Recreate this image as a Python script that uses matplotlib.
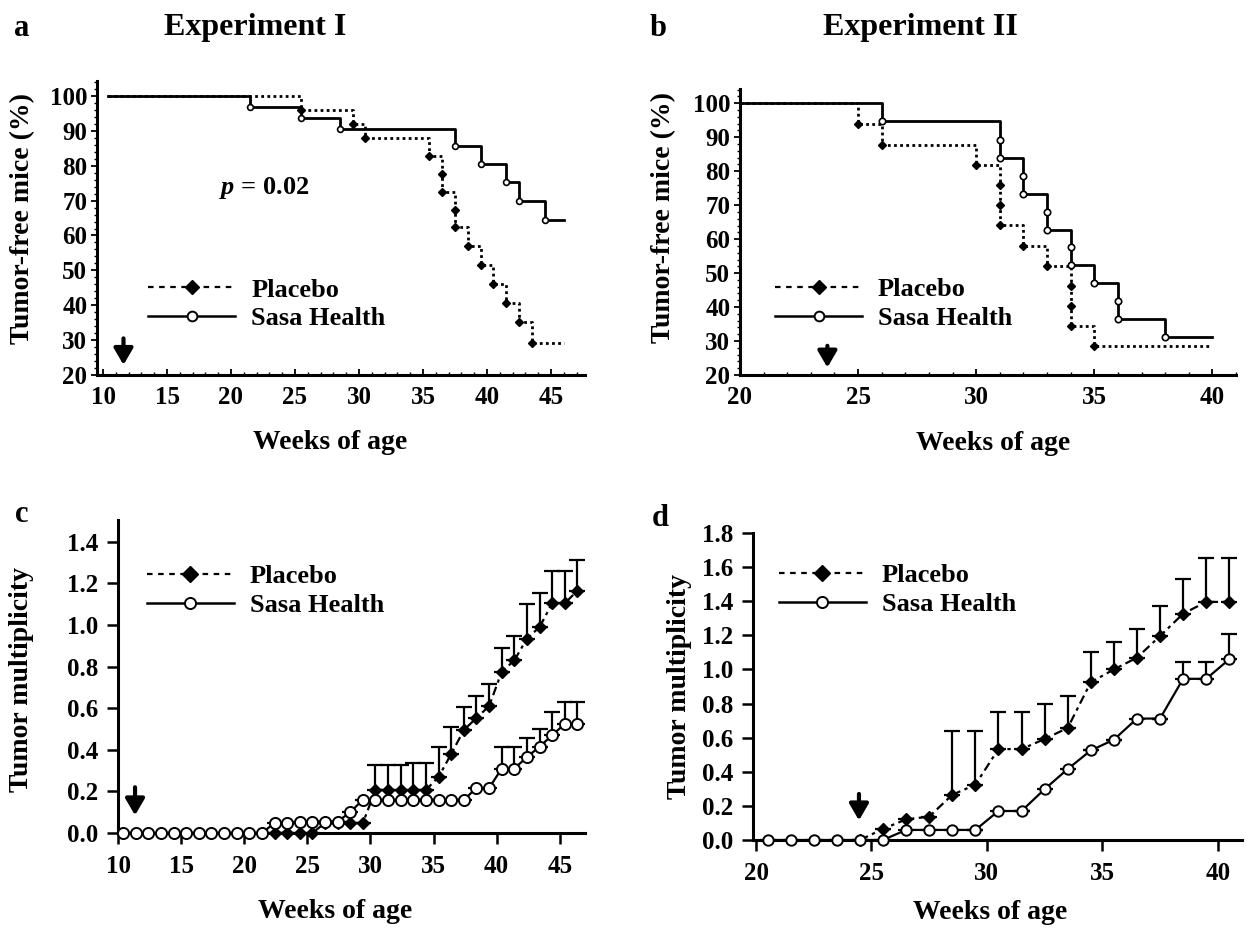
import numpy as np
import matplotlib
matplotlib.use("Agg")
import matplotlib.pyplot as plt
from matplotlib.lines import Line2D
from matplotlib.ticker import MultipleLocator

plt.rcParams["font.family"] = "serif"
plt.rcParams["font.serif"] = ["Liberation Serif", "DejaVu Serif"]
plt.rcParams["font.weight"] = "bold"
plt.rcParams["axes.labelweight"] = "bold"
plt.rcParams["mathtext.fontset"] = "custom"
plt.rcParams["mathtext.it"] = "Liberation Serif:italic:bold"
plt.rcParams["mathtext.rm"] = "Liberation Serif:bold"

# ── Experiment I : tumor-free mice (Kaplan-Meier) ──
a_pl_weeks = [10.4, 25.5, 29.5, 30.5, 35.5, 36.5, 36.5, 37.5, 37.5, 38.5, 39.5, 40.5, 41.5, 42.5, 43.5, 46.0]
a_pl_free = [100, 96.0, 92.1, 87.9, 82.9, 77.7, 72.4, 67.4, 62.4, 57.1, 51.6, 46.2, 40.6, 35.2, 29.3, 29.3]
a_ss_weeks = [10.4, 21.5, 25.5, 28.5, 37.5, 39.5, 41.5, 42.5, 44.5, 46.0]
a_ss_free = [100, 96.9, 93.8, 90.5, 85.7, 80.6, 75.3, 70.0, 64.4, 64.4]

# ── Experiment II : tumor-free mice (Kaplan-Meier) ──
b_pl_weeks = [20, 25, 26, 30, 31, 31, 31, 32, 33, 34, 34, 34, 35, 40]
b_pl_free = [100, 93.8, 87.8, 81.9, 75.9, 70.0, 64.1, 58.1, 52.2, 46.1, 40.2, 34.3, 28.4, 28.4]
b_ss_weeks = [20, 26, 31, 31, 32, 32, 33, 33, 34, 34, 35, 36, 36, 38, 40]
b_ss_free = [100, 94.7, 89.3, 83.9, 78.7, 73.4, 68.0, 62.8, 57.7, 52.4, 47.1, 41.9, 36.5, 31.1, 31.1]

# ── Experiment I : tumor multiplicity ──
c_ss_weeks = [10.4, 11.4, 12.4, 13.4, 14.4, 15.4, 16.4, 17.4, 18.4, 19.4, 20.4, 21.4, 22.4,
              23.4, 24.4, 25.4, 26.4, 27.4, 28.4, 29.4, 30.4, 31.4, 32.4, 33.4, 34.4, 35.4,
              36.4, 37.4, 38.4, 39.4, 40.4, 41.4, 42.4, 43.4, 44.4, 45.4, 46.4]
c_ss_mult = [0, 0, 0, 0, 0, 0, 0, 0, 0, 0, 0, 0, 0.048, 0.048, 0.055, 0.055, 0.055, 0.055,
             0.10, 0.16, 0.16, 0.16, 0.16, 0.16, 0.16, 0.16, 0.16, 0.16, 0.216, 0.216,
             0.31, 0.31, 0.365, 0.415, 0.47, 0.525, 0.525]
c_ss_sem = [np.nan] * 30 + [0.105, 0.105, 0.091, 0.085, 0.11, 0.105, 0.105]
c_pl_weeks = [22.4, 23.4, 24.4, 25.4, 26.4, 27.4, 28.4, 29.4, 30.4, 31.4, 32.4, 33.4, 34.4,
              35.4, 36.4, 37.4, 38.4, 39.4, 40.4, 41.4, 42.4, 43.4, 44.4, 45.4, 46.4]
c_pl_mult = [0, 0, 0, 0, 0.048, 0.048, 0.048, 0.048, 0.207, 0.207, 0.207, 0.207, 0.207,
             0.27, 0.38, 0.495, 0.553, 0.61, 0.775, 0.83, 0.935, 0.99, 1.105, 1.105, 1.165]
c_pl_sem = [np.nan] * 8 + [0.12, 0.12, 0.12, 0.129, 0.129, 0.145, 0.13, 0.111, 0.107, 0.106,
                          0.115, 0.116, 0.165, 0.165, 0.155, 0.155, 0.148]

# ── Experiment II : tumor multiplicity ──
d_ss_weeks = [20.5, 21.5, 22.5, 23.5, 24.5, 25.5, 26.5, 27.5, 28.5, 29.5, 30.5, 31.5, 32.5,
              33.5, 34.5, 35.5, 36.5, 37.5, 38.5, 39.5, 40.5]
d_ss_mult = [0, 0, 0, 0, 0, 0, 0.059, 0.059, 0.059, 0.059, 0.17, 0.17, 0.298, 0.416, 0.525,
             0.588, 0.712, 0.712, 0.945, 0.945, 1.06]
d_ss_sem = [np.nan] * 9 + [0.0, np.nan, 0.0, np.nan, np.nan, 0.0, 0.0, np.nan, 0.0,
                           0.098, 0.098, 0.146]
d_pl_weeks = [24.5, 25.5, 26.5, 27.5, 28.5, 29.5, 30.5, 31.5, 32.5, 33.5, 34.5, 35.5, 36.5,
              37.5, 38.5, 39.5, 40.5]
d_pl_mult = [0, 0.065, 0.121, 0.137, 0.265, 0.324, 0.533, 0.533, 0.592, 0.657, 0.925, 1.0,
             1.069, 1.196, 1.327, 1.396, 1.396]
d_pl_sem = [np.nan] * 4 + [0.372, 0.313, 0.216, 0.216, 0.208, 0.19, 0.177, 0.16, 0.17,
                          0.176, 0.203, 0.255, 0.255]

W, H = 1255, 931
fig = plt.figure(figsize=(W / 100, H / 100), dpi=100)


def px_axes(left, top, right, bottom):
    return fig.add_axes([left / W, 1 - bottom / H, (right - left) / W, (bottom - top) / H])


ax_a = px_axes(97, 81, 585, 375)
ax_b = px_axes(740, 89, 1236, 375)
ax_c = px_axes(118, 520, 585, 833)
ax_d = px_axes(753, 533, 1242, 840)

for ax in (ax_a, ax_b, ax_c, ax_d):
    for s in ("top", "right"):
        ax.spines[s].set_visible(False)
    for s in ("left", "bottom"):
        ax.spines[s].set_linewidth(2.2)

PL_KM = (0, (1, 1.2))
PL_MULT = (0, (4, 2, 1.5, 2))


def km_panel(ax, pw, pv, sw, sv, ms_d, ms_o):
    ax.step(pw, pv, where="post", color="k", lw=2.0, ls=PL_KM, zorder=2)
    ax.plot(pw[1:-1], pv[1:-1], ls="none", marker="D", ms=ms_d, color="k", zorder=3)
    ax.step(sw, sv, where="post", color="k", lw=2.0, zorder=4)
    ax.plot(sw[1:-1], sv[1:-1], ls="none", marker="o", ms=ms_o, mfc="white", mec="k",
            mew=1.2, zorder=5)
    ax.set_yticks(range(20, 101, 10))
    ax.yaxis.set_minor_locator(MultipleLocator(2))
    ax.xaxis.set_minor_locator(MultipleLocator(1))
    ax.tick_params(axis="y", which="major", direction="out", length=4, width=1.3,
                   labelsize=18, pad=3)
    ax.tick_params(axis="y", which="minor", direction="out", length=2.5, width=1)
    ax.tick_params(axis="x", which="major", direction="in", length=4, width=1.3,
                   labelsize=18, pad=8)
    ax.tick_params(axis="x", which="minor", direction="in", length=2.5, width=1)


def mult_panel(ax, pw, pv, pe, sw, sv, se, ms_d, ms_o):
    pe = np.array(pe)
    se = np.array(se)
    ax.errorbar(pw, pv, yerr=[np.zeros_like(pe), pe], fmt="none", ecolor="k",
                elinewidth=1.6, capsize=6, capthick=1.6, zorder=2)
    ax.errorbar(sw, sv, yerr=[np.zeros_like(se), se], fmt="none", ecolor="k",
                elinewidth=1.6, capsize=6, capthick=1.6, zorder=2)
    ax.plot(pw, pv, color="k", lw=1.6, ls=PL_MULT, marker="D", ms=ms_d, zorder=3,
            clip_on=False)
    ax.plot(sw, sv, color="k", lw=1.6, marker="o", ms=ms_o, mfc="white", mec="k",
            mew=1.4, zorder=4, clip_on=False)
    ax.tick_params(axis="both", which="major", direction="out", length=8, width=1.8,
                   labelsize=18)
    ax.tick_params(axis="x", pad=8)
    ax.tick_params(axis="y", pad=6)


def add_legend(ax, anchor, ms_d, ms_o, pl_ls):
    handles = [
        Line2D([], [], color="k", lw=1.6, ls=pl_ls, marker="D", ms=ms_d),
        Line2D([], [], color="k", lw=1.8, marker="o", ms=ms_o, mfc="white", mec="k", mew=1.4),
    ]
    ax.legend(handles, ["Placebo", "Sasa Health"], loc="center left", bbox_to_anchor=anchor,
              frameon=False, handlelength=3.3, handletextpad=0.6, borderpad=0,
              borderaxespad=0, labelspacing=0.2, numpoints=1,
              prop={"size": 19, "weight": "bold"})


def arrow(ax, x, y_from, y_to):
    ax.annotate("", xy=(x, y_to), xytext=(x, y_from),
                arrowprops=dict(arrowstyle="-|>,head_width=0.32,head_length=0.55",
                                lw=3, color="k", shrinkA=0, shrinkB=0,
                                mutation_scale=18))


# panel a
km_panel(ax_a, a_pl_weeks, a_pl_free, a_ss_weeks, a_ss_free, 3.6, 4.2)
ax_a.set_xlim(9.53, 47.66)
ax_a.set_ylim(20, 104.3)
ax_a.set_xticks(range(10, 46, 5))
ax_a.text(22.6, 73.7, r"$p$ = 0.02", fontsize=19, ha="center", va="center")
add_legend(ax_a, (0.105, 0.241), 7, 7, (0, (2.5, 2.5)))
arrow(ax_a, 11.6, 30.5, 22.9)

# panel b
km_panel(ax_b, b_pl_weeks, b_pl_free, b_ss_weeks, b_ss_free, 3.8, 4.6)
ax_b.set_xlim(20, 41)
ax_b.set_ylim(20, 104.2)
ax_b.set_xticks(range(20, 41, 5))
add_legend(ax_b, (0.0706, 0.248), 7, 7, (0, (2.5, 2.5)))
arrow(ax_b, 23.7, 28.6, 22.2)

# panel c
mult_panel(ax_c, c_pl_weeks, c_pl_mult, c_pl_sem, c_ss_weeks, c_ss_mult, c_ss_sem, 6.5, 8)
ax_c.set_xlim(10, 47)
ax_c.set_ylim(0, 1.505)
ax_c.set_xticks(range(10, 46, 5))
ax_c.set_yticks(np.arange(0, 1.41, 0.2))
ax_c.yaxis.set_major_formatter(lambda v, p: f"{v:.1f}")
add_legend(ax_c, (0.062, 0.773), 8, 8, (0, (2.5, 2.5)))
arrow(ax_c, 11.35, 0.22, 0.085)

# panel d
mult_panel(ax_d, d_pl_weeks, d_pl_mult, d_pl_sem, d_ss_weeks, d_ss_mult, d_ss_sem, 6, 7.5)
ax_d.set_xlim(19.87, 41.05)
ax_d.set_ylim(0, 1.8)
ax_d.set_xticks(range(20, 41, 5))
ax_d.set_yticks(np.arange(0, 1.81, 0.2))
ax_d.yaxis.set_major_formatter(lambda v, p: f"{v:.1f}")
add_legend(ax_d, (0.053, 0.814), 8, 8, (0, (2.5, 2.5)))
arrow(ax_d, 24.46, 0.27, 0.115)

# axis labels
for ax, txt, xy in ((ax_a, "Tumor-free mice (%)", (-0.152, 0.534)),
                    (ax_b, "Tumor-free mice (%)", (-0.155, 0.549)),
                    (ax_c, "Tumor multiplicity", (-0.206, 0.489)),
                    (ax_d, "Tumor multiplicity", (-0.15, 0.5))):
    ax.set_ylabel(txt, fontsize=20, va="center")
    ax.yaxis.set_label_coords(*xy)

for ax, xy in ((ax_a, (0.477, -0.231)), (ax_b, (0.51, -0.238)),
               (ax_c, (0.465, -0.25)), (ax_d, (0.485, -0.235))):
    ax.set_xlabel("Weeks of age", fontsize=20, va="center")
    ax.xaxis.set_label_coords(*xy)

# panel letters and titles
fig.text(22 / W, 1 - 28 / H, "a", fontsize=22, ha="center", va="center")
fig.text(255 / W, 1 - 28 / H, "Experiment I", fontsize=23, ha="center", va="center")
fig.text(658 / W, 1 - 28 / H, "b", fontsize=22, ha="center", va="center")
fig.text(920 / W, 1 - 28 / H, "Experiment II", fontsize=23, ha="center", va="center")
fig.text(22 / W, 1 - 515 / H, "c", fontsize=22, ha="center", va="center")
fig.text(660 / W, 1 - 518 / H, "d", fontsize=22, ha="center", va="center")

fig.savefig("out.png", dpi=100)
